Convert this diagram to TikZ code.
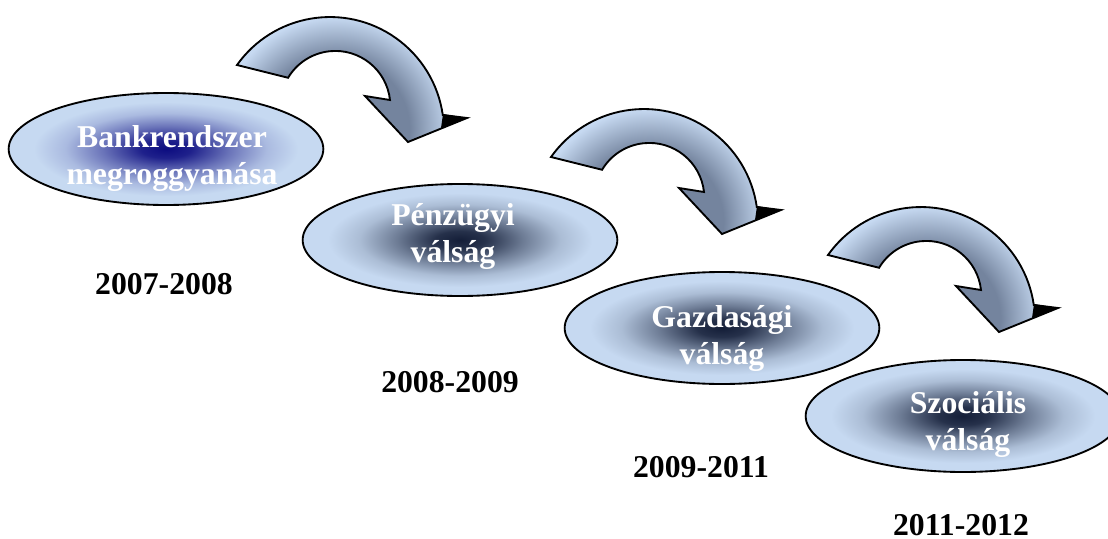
\documentclass[tikz,border=0pt]{standalone}
\usepackage{fontspec}
\setmainfont{Liberation Serif}
\usetikzlibrary{shapes.geometric}

\definecolor{paleblue}{RGB}{198,217,241}
\definecolor{navycore}{RGB}{12,12,128}
\definecolor{slatecore}{RGB}{20,30,56}
\definecolor{arrowdark}{RGB}{116,132,158}

\pgfdeclareradialshading{bankglow}{\pgfpoint{0bp}{0bp}}{color(0bp)=(navycore); color(4bp)=(navycore!90!paleblue); color(10bp)=(navycore!50!paleblue); color(16bp)=(navycore!15!paleblue); color(21bp)=(paleblue); color(50bp)=(paleblue)}
\pgfdeclareradialshading{crisisglow}{\pgfpoint{0bp}{0bp}}{color(0bp)=(slatecore); color(4bp)=(slatecore!90!paleblue); color(10bp)=(slatecore!50!paleblue); color(16bp)=(slatecore!15!paleblue); color(21bp)=(paleblue); color(50bp)=(paleblue)}
\pgfdeclareradialshading{arrowring}{\pgfpoint{0bp}{0bp}}{color(0bp)=(arrowdark); color(14bp)=(arrowdark); color(18bp)=(arrowdark!50!paleblue); color(22bp)=(paleblue); color(50bp)=(paleblue)}

\begin{document}
\begin{tikzpicture}[
    x=0.75pt, y=-0.75pt,
    phase/.style={draw, ellipse, line width=1.4pt, shade, minimum width=236pt, minimum height=84pt, inner sep=0pt},
    phasetext/.style={text=white, align=center, inner sep=0pt, font=\fontsize{23.8}{27.75}\selectfont\bfseries},
    period/.style={anchor=base, inner sep=0pt, font=\fontsize{23.8}{27.75}\selectfont\bfseries},
    curvearrow/.style={draw, line width=1.4pt, fill=paleblue,
        path picture={\shade[shading=arrowring] (330,131) circle[radius=125];}},
]
\clip (0,0) rectangle (1108,539);

% curved arrows between the phases
\foreach \dx/\dy in {0/0, 314/92, 591/190}{
  \begin{scope}[shift={(\dx,\dy)}]
    \draw[curvearrow] (237,65) arc[start angle=-144.6, end angle=-8.1, radius=114]
      -- (467,118) -- (408,142) -- (365,96) -- (390,100)
      arc[start angle=-6.2, end angle=-149.2, radius=55] -- cycle;
    \fill[black] (443,114) -- (467,118) -- (441,128) -- cycle;
  \end{scope}
}

% phases
\node[phase, shading=bankglow] (bank) at (166,149) {};
\node[phase, shading=crisisglow] (penz) at (460,240) {};
\node[phase, shading=crisisglow] (gazd) at (722,328) {};
\node[phase, shading=crisisglow] (szoc) at (963,416) {};

\node[phasetext] (bank-t) at (172,158) {Bankrendszer\\megroggyanása};
\node[phasetext] (penz-t) at (453,236) {Pénzügyi\\válság};
\node[phasetext] (gazd-t) at (722,338) {Gazdasági\\válság};
\node[phasetext] (szoc-t) at (968,424) {Szociális\\válság};

% periods
\node[period] (bank-y) at (164,294) {2007-2008};
\node[period] (penz-y) at (450,392) {2008-2009};
\node[period] (gazd-y) at (701,477) {2009-2011};
\node[period] (szoc-y) at (961,535) {2011-2012};

\end{tikzpicture}
\end{document}
